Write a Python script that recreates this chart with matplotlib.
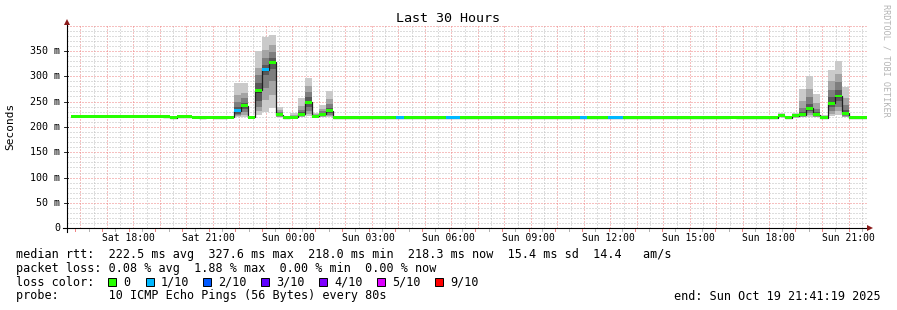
import numpy as np
import matplotlib
matplotlib.use("Agg")
import matplotlib.pyplot as plt
from matplotlib.patches import Rectangle

plt.rcParams['font.family'] = ['DejaVu Sans Mono']

# ---- data -------------------------------------------------------------
# time axis in hours since Sat Oct 18 00:00
T_START = 15 + 41 / 60 + 19 / 3600
T_END = T_START + 30
BIN_FIRST = 15 + 40 / 60      # first 16 min rrd bin
BIN_LEN = 16 / 60

# median rtt per bin (ms)
median = [
    221.4, 221.2, 221.0, 221.0, 221.1, 221.0, 220.9, 221.0, 221.0, 220.8,
    220.9, 220.8, 220.6, 220.4, 218.2, 219.8, 219.6, 218.6, 218.5, 218.6,
    218.4, 218.5, 218.6, 232.0, 241.5, 219.0, 272.0, 312.5, 327.6, 224.0,
    218.4, 219.0, 225.0, 248.5, 221.0, 225.0, 232.0, 218.3, 218.2, 218.3,
    218.4, 218.3, 218.2, 218.3, 218.3, 218.4, 218.5, 218.3, 218.2, 218.3,
    218.3, 218.4, 218.3, 218.5, 218.4, 218.3, 218.2, 218.3, 218.3, 218.2,
    218.3, 218.4, 218.3, 218.3, 218.2, 218.3, 218.3, 218.4, 218.3, 218.3,
    218.2, 218.3, 218.5, 218.3, 218.3, 218.2, 218.4, 218.5, 218.3, 218.3,
    218.2, 218.3, 218.3, 218.4, 218.3, 218.2, 218.3, 218.3, 218.3, 218.4,
    218.3, 218.2, 218.3, 218.6, 218.3, 218.3, 218.2, 218.3, 218.4, 218.3,
    222.0, 218.2, 222.0, 224.0, 237.0, 224.0, 218.3, 247.0, 261.0, 227.0,
    218.3, 218.4, 218.3,
]

# bins with packet loss (percent)
lossy_bins = [23, 27, 46, 53, 54, 72, 76, 77]
lossy_pct = [0.94, 1.88, 0.63, 0.63, 0.94, 0.63, 0.63, 0.63]

# the 10 sorted pings of bins that show smoke (ms)
smoke_bins = [0, 1, 23, 24, 26, 27, 28, 29, 31, 32, 33, 34, 35, 36,
              93, 100, 102, 103, 104, 105, 106, 107, 108, 109]
smoke_pings = [
    [220.5, 221, 221, 221.2, 221.3, 221.5, 221.7, 222, 222.5, 223.5],
    [220.3, 220.8, 221, 221.1, 221.2, 221.3, 221.5, 221.8, 222.2, 223],
    [219, 221, 223, 226, 230, 234, 240, 250, 263, 286],
    [220, 224, 229, 236, 240, 243, 248, 257, 266, 286],
    [223, 232, 239, 252, 266, 274, 287, 302, 317, 350],
    [230, 253, 276, 302, 311, 315, 322, 335, 352, 377],
    [238, 262, 290, 315, 326, 330, 336, 347, 362, 382],
    [219, 220, 221, 222, 223, 225, 227, 230, 234, 239],
    [218, 218, 218.5, 218.8, 219, 219.2, 220, 221, 223, 228],
    [219, 220, 221, 223, 224, 226, 229, 234, 242, 257],
    [221, 225, 231, 240, 247, 250, 258, 268, 280, 296],
    [218, 219, 219, 220, 221, 221, 222, 224, 226, 228],
    [219, 220, 221, 223, 224, 226, 228, 232, 236, 243],
    [220, 222, 224, 228, 231, 233, 238, 246, 256, 271],
    [217.8, 218, 218.1, 218.2, 218.3, 218.4, 218.6, 219, 219.6, 221],
    [219, 220, 220.5, 221, 221.7, 222.3, 223, 224, 225, 227],
    [218, 219, 219, 220, 221, 222, 223, 224, 225, 227],
    [219, 220, 221, 222, 223, 225, 229, 238, 252, 275],
    [220, 223, 227, 232, 236, 239, 246, 258, 275, 300],
    [219, 220, 221, 222, 223, 225, 229, 236, 247, 264],
    [217.5, 218, 218, 218, 218.2, 218.5, 219, 220, 221, 224],
    [221, 226, 232, 240, 245, 249, 258, 272, 290, 313],
    [224, 231, 240, 251, 259, 263, 273, 288, 305, 329],
    [219, 220, 222, 224, 226, 228, 233, 243, 257, 278],
]

y_ticks = [0, 50, 100, 150, 200, 250, 300, 350]
y_tick_labels = ["0", "50 m", "100 m", "150 m", "200 m", "250 m", "300 m", "350 m"]
x_ticks = [18, 21, 24, 27, 30, 33, 36, 39, 42, 45]
x_tick_labels = ["Sat 18:00", "Sat 21:00", "Sun 00:00", "Sun 03:00", "Sun 06:00",
                 "Sun 09:00", "Sun 12:00", "Sun 15:00", "Sun 18:00", "Sun 21:00"]

loss_labels = ["0", "1/10", "2/10", "3/10", "4/10", "5/10", "9/10"]
loss_colors = ["#26ff00", "#00b8ff", "#0059ff", "#5e00ff", "#7e00ff", "#dd00ff", "#ff0000"]
smoke_shades = ["#cacaca", "#a4a4a4", "#7e7e7e", "#585858", "#323232"]

stats_line = "median rtt:  222.5 ms avg  327.6 ms max  218.0 ms min  218.3 ms now  15.4 ms sd  14.4   am/s"
loss_line = "packet loss: 0.08 % avg  1.88 % max  0.00 % min  0.00 % now"
probe_line = "probe:       10 ICMP Echo Pings (56 Bytes) every 80s"
end_line = "end: Sun Oct 19 21:41:19 2025"

# ---- layout -------------------------------------------------------------
W, H = 897, 310
X0, X1 = 67, 867        # pixel columns of the plot area
Y0 = 228.3              # pixel row of 0 ms
PX_PER_MS = 0.507
YMAX = 400
SW = 2.9                # half height of the loss coloured median band

fig = plt.figure(figsize=(W / 100, H / 100), dpi=100)
fig.patch.set_facecolor("white")
ax = fig.add_axes([X0 / W, 1 - Y0 / H, (X1 - X0) / W, YMAX * PX_PER_MS / H])
ax.set_xlim(T_START, T_END)
ax.set_ylim(0, YMAX)
ax.set_axisbelow(True)
for s in ax.spines.values():
    s.set_visible(False)

# grid
ax.set_xticks(np.arange(16, 46, 1.0))
ax.set_xticks(np.arange(15.5, 46, 1.0), minor=True)
ax.set_yticks(np.arange(0, YMAX + 1, 50))
ax.set_yticks(np.arange(0, YMAX + 1, 10), minor=True)
ax.grid(which="minor", color="#bdbdbd", linestyle=(0, (1, 2)), lw=0.72)
ax.grid(which="major", color="#ee8080", linestyle=(0, (1, 2)), lw=0.72)
ax.tick_params(which="both", length=0, labelbottom=False, labelleft=False)

edges = BIN_FIRST + BIN_LEN * np.arange(len(median) + 1)
med = np.array(median)

# smoke
for b, pings in zip(smoke_bins, smoke_pings):
    for j, shade in enumerate(smoke_shades):
        ax.bar(edges[b], pings[9 - j] - pings[j], width=BIN_LEN, bottom=pings[j],
               align="edge", color=shade, linewidth=0)

# median line and loss coloured band
ax.stairs(med, edges, baseline=None, color="#202020", lw=0.9)
col_idx = np.zeros(len(med), dtype=int)
for b, pct in zip(lossy_bins, lossy_pct):
    lost = pct / 10.0
    col_idx[b] = min(int(np.ceil(lost)), 6)
band_colors = [loss_colors[i] for i in col_idx]
ax.bar(edges[:-1], 2 * SW, width=BIN_LEN, bottom=med - SW, align="edge",
       color=band_colors, linewidth=0)

# ---- decorations in pixel coordinates -------------------------------------
deco = fig.add_axes([0, 0, 1, 1])
deco.set_xlim(0, W)
deco.set_ylim(H, 0)
deco.axis("off")
deco.patch.set_alpha(0)

def py(v):
    return Y0 - v * PX_PER_MS

def px(t):
    return X0 + (t - T_START) * (X1 - X0) / 30.0

# axes with arrows
deco.plot([63, 868], [Y0, Y0], color="#000000", lw=0.8)
deco.plot([X0, X0], [Y0 + 4, 23], color="#000000", lw=0.8)
deco.plot([X0], [21.5], marker="^", color="#8b1a1a", ms=4.5, mew=0)
deco.plot([870], [Y0], marker=">", color="#8b1a1a", ms=4.5, mew=0)

# axis ticks
for v in y_ticks:
    deco.plot([X0 - 3, X0 + 1], [py(v), py(v)], color="#000000", lw=0.6)
for h in np.arange(16, 46, 0.5):
    c = "#f08080" if h % 1 == 0 else "#b0b0b0"
    deco.plot([px(h), px(h)], [Y0 + 1, Y0 + 3], color=c, lw=0.7)

for v, lab in zip(y_ticks, y_tick_labels):
    deco.text(60, py(v), lab, ha="right", va="center", fontsize=7.2)
for t, lab in zip(x_ticks, x_tick_labels):
    deco.text(px(t), 238, lab, ha="center", va="center", fontsize=7)

deco.text(448, 19, "Last 30 Hours", ha="center", va="center", fontsize=9.6)
deco.text(10.5, 126.5, "Seconds", ha="center", va="center", rotation=90, fontsize=8)
deco.text(886, 4, "RRDTOOL / TOBI OETIKER", ha="center", va="top", rotation=270,
          fontsize=6.1, color="#b4b4b4")

# legend
FS = 8.5
deco.text(16, 254.3, stats_line, ha="left", va="center", fontsize=FS)
deco.text(16, 268.3, loss_line, ha="left", va="center", fontsize=FS)
deco.text(16, 282.3, "loss color:", ha="left", va="center", fontsize=FS)
sq_x = [108.3, 145.7, 203, 261, 319, 376.7, 435]
for x, lab, c in zip(sq_x, loss_labels, loss_colors):
    deco.add_patch(Rectangle((x, 278.3), 8, 8, facecolor=c, edgecolor="#000000", lw=0.7))
    deco.text(x + 15, 282.3, lab, ha="left", va="center", fontsize=FS)
deco.text(16, 296, probe_line, ha="left", va="center", fontsize=FS)
deco.text(881, 296, end_line, ha="right", va="center", fontsize=FS)

fig.savefig("out.png", dpi=100, facecolor="white")
